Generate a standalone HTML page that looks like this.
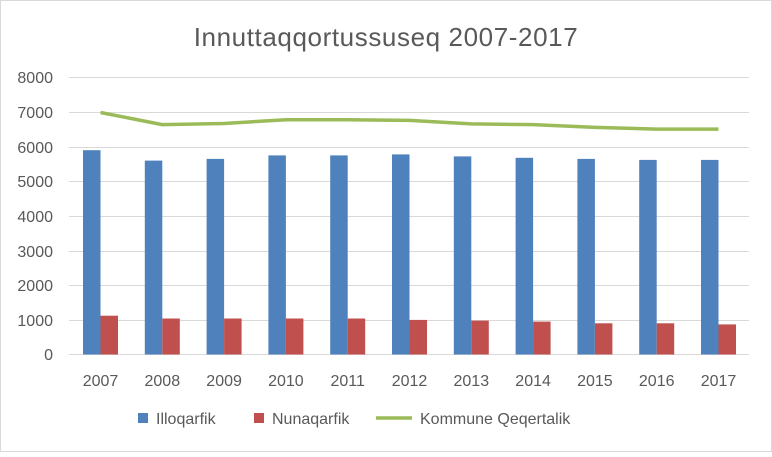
<!DOCTYPE html>
<html><head><meta charset="utf-8"><style>
html,body{margin:0;padding:0;background:#fff}
body{width:772px;height:452px;overflow:hidden}
svg text{font-family:"Liberation Sans",sans-serif;fill:#595959}
</style></head><body>
<svg width="772" height="452" xmlns="http://www.w3.org/2000/svg">
<rect x="0.5" y="0.5" width="771" height="451" fill="#fff" stroke="#d9d9d9"/>
<text x="386" y="46" text-anchor="middle" font-size="26" letter-spacing="0.6">Innuttaqqortussuseq  2007-2017</text>
<g stroke="#d9d9d9" stroke-width="1">
<line x1="69" x2="749" y1="77.5" y2="77.5"/><line x1="69" x2="749" y1="112.5" y2="112.5"/>
<line x1="69" x2="749" y1="147.5" y2="147.5"/><line x1="69" x2="749" y1="181.5" y2="181.5"/>
<line x1="69" x2="749" y1="216.5" y2="216.5"/><line x1="69" x2="749" y1="251.5" y2="251.5"/>
<line x1="69" x2="749" y1="285.5" y2="285.5"/><line x1="69" x2="749" y1="320.5" y2="320.5"/>
<line x1="69" x2="749" y1="354.5" y2="354.5"/>
</g>
<g font-size="16" text-anchor="end">
<text x="53" y="83">8000</text><text x="53" y="118">7000</text><text x="53" y="153">6000</text>
<text x="53" y="187">5000</text><text x="53" y="222">4000</text><text x="53" y="257">3000</text>
<text x="53" y="291">2000</text><text x="53" y="326">1000</text><text x="53" y="360">0</text>
</g>
<g fill="#4f81bd">
<rect x="83" y="150.2" width="17.5" height="204.3"/>
<rect x="144.8" y="160.6" width="17.5" height="193.9"/>
<rect x="206.6" y="158.9" width="17.5" height="195.6"/>
<rect x="268.4" y="155.4" width="17.5" height="199.1"/>
<rect x="330.2" y="155.4" width="17.5" height="199.1"/>
<rect x="392" y="154.4" width="17.5" height="200.1"/>
<rect x="453.8" y="156.4" width="17.5" height="198.1"/>
<rect x="515.6" y="157.8" width="17.5" height="196.7"/>
<rect x="577.4" y="158.9" width="17.5" height="195.6"/>
<rect x="639.2" y="159.9" width="17.5" height="194.6"/>
<rect x="701" y="159.9" width="17.5" height="194.6"/>
</g>
<g fill="#c0504d">
<rect x="100.5" y="315.7" width="17.5" height="38.8"/>
<rect x="162.3" y="318.5" width="17.5" height="36"/>
<rect x="224.1" y="318.5" width="17.5" height="36"/>
<rect x="285.9" y="318.5" width="17.5" height="36"/>
<rect x="347.7" y="318.5" width="17.5" height="36"/>
<rect x="409.5" y="319.9" width="17.5" height="34.6"/>
<rect x="471.3" y="320.6" width="17.5" height="33.9"/>
<rect x="533.1" y="321.6" width="17.5" height="32.9"/>
<rect x="594.9" y="323.3" width="17.5" height="31.2"/>
<rect x="656.7" y="323.3" width="17.5" height="31.2"/>
<rect x="718.5" y="324.4" width="17.5" height="30.1"/>
</g>
<g font-size="16" text-anchor="middle">
<text x="100.5" y="386">2007</text><text x="162.3" y="386">2008</text><text x="224.1" y="386">2009</text>
<text x="285.9" y="386">2010</text><text x="347.7" y="386">2011</text><text x="409.5" y="386">2012</text>
<text x="471.3" y="386">2013</text><text x="533.1" y="386">2014</text><text x="594.9" y="386">2015</text>
<text x="656.7" y="386">2016</text><text x="718.5" y="386">2017</text>
</g>
<polyline fill="none" stroke="#9bbb59" stroke-width="3.5" stroke-linejoin="round" points="100.5,112.5 162.3,124.6 224.1,123.5 285.9,119.7 347.7,119.7 409.5,120.4 471.3,123.9 533.1,124.6 594.9,127.4 656.7,129.1 718.5,129.1"/>
<rect x="138" y="413" width="10" height="10" fill="#4f81bd"/>
<text x="156" y="424" font-size="16">Illoqarfik</text>
<rect x="254" y="413" width="10" height="10" fill="#c0504d"/>
<text x="272" y="424" font-size="16">Nunaqarfik</text>
<line x1="376" x2="412" y1="418" y2="418" stroke="#9bbb59" stroke-width="3.5"/>
<text x="420" y="424" font-size="16">Kommune Qeqertalik</text>
</svg>
</body></html>
